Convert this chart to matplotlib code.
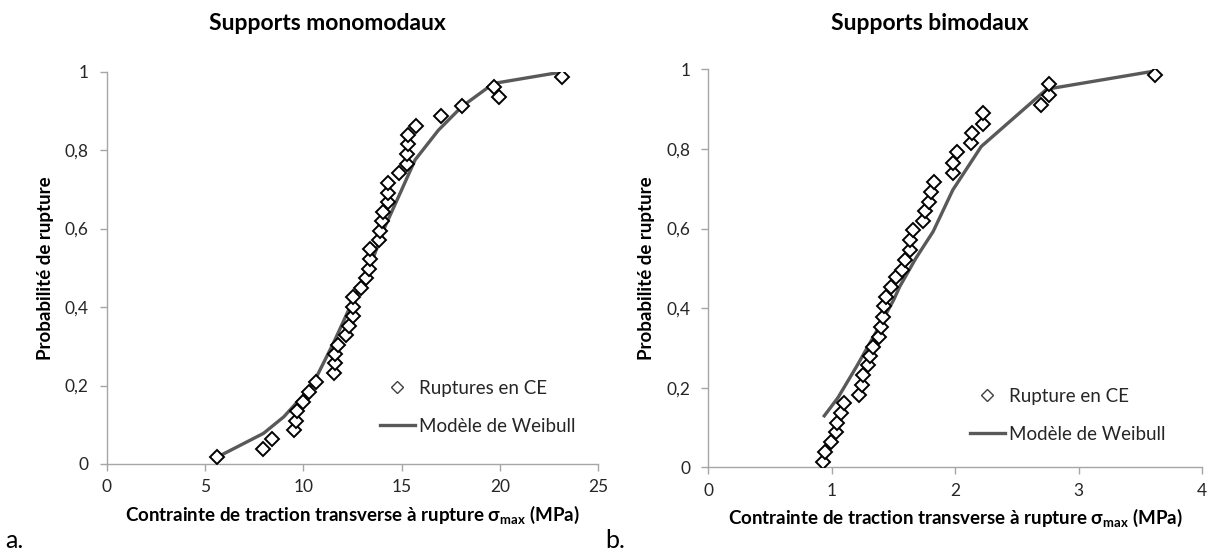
import matplotlib
matplotlib.use("Agg")
import matplotlib.pyplot as plt
from matplotlib.lines import Line2D

plt.rcParams["font.family"] = ["Lato", "DejaVu Sans"]
plt.rcParams["mathtext.fontset"] = "custom"
plt.rcParams["mathtext.rm"] = "Lato"
plt.rcParams["mathtext.default"] = "regular"

# --- Supports monomodaux: measured rupture stresses (MPa) and probabilities
mono_sigma = [5.60, 7.93, 8.39, 9.54, 9.64, 9.68, 9.98, 10.31, 10.66, 11.56,
              11.60, 11.61, 11.75, 12.17, 12.32, 12.54, 12.51, 12.53, 12.93, 13.17,
              13.34, 13.38, 13.38, 13.85, 13.90, 14.02, 14.07, 14.32, 14.32, 14.29,
              14.88, 15.29, 15.29, 15.31, 15.34, 15.72, 16.99, 18.06, 19.95, 19.70,
              23.17]
mono_prob = [0.017, 0.038, 0.063, 0.087, 0.110, 0.135, 0.159, 0.183, 0.208, 0.231,
             0.257, 0.280, 0.304, 0.329, 0.353, 0.376, 0.401, 0.426, 0.449, 0.473,
             0.498, 0.522, 0.548, 0.570, 0.594, 0.619, 0.643, 0.667, 0.692, 0.717,
             0.741, 0.764, 0.789, 0.815, 0.839, 0.862, 0.887, 0.913, 0.935, 0.962,
             0.986]
# Weibull model curve (monomodal)
mono_model_sigma = [5.60, 7.97, 9.00, 10.00, 10.51, 11.53, 12.38, 13.39, 14.07,
                    14.92, 15.68, 16.87, 18.06, 19.67, 23.23]
mono_model_prob = [0.017, 0.078, 0.120, 0.175, 0.206, 0.308, 0.401, 0.503, 0.596,
                   0.690, 0.775, 0.851, 0.911, 0.970, 1.000]

# --- Supports bimodaux
bi_sigma = [0.931, 0.945, 0.993, 1.031, 1.040, 1.072, 1.099, 1.220, 1.242, 1.250,
            1.296, 1.309, 1.336, 1.382, 1.398, 1.412, 1.425, 1.440, 1.480, 1.520,
            1.566, 1.593, 1.633, 1.633, 1.655, 1.736, 1.755, 1.790, 1.800, 1.828,
            1.984, 1.984, 2.011, 2.127, 2.133, 2.227, 2.227, 2.690, 2.760, 2.760,
            3.617]
bi_prob = [0.014, 0.039, 0.064, 0.088, 0.112, 0.136, 0.161, 0.182, 0.207, 0.232,
           0.257, 0.280, 0.303, 0.328, 0.353, 0.378, 0.405, 0.428, 0.453, 0.477,
           0.496, 0.521, 0.546, 0.572, 0.596, 0.620, 0.644, 0.667, 0.692, 0.718,
           0.740, 0.764, 0.793, 0.814, 0.839, 0.863, 0.889, 0.910, 0.935, 0.962,
           0.986]
# Weibull model curve (bimodal)
bi_model_sigma = [0.931, 1.05, 1.20, 1.35, 1.50, 1.55, 1.68, 1.82, 1.98, 2.21,
                  2.74, 3.62]
bi_model_prob = [0.126, 0.175, 0.253, 0.335, 0.420, 0.454, 0.525, 0.592, 0.697,
                 0.806, 0.950, 0.996]

y_ticks = [0, 0.2, 0.4, 0.6, 0.8, 1.0]
y_tick_labels = ["0", "0,2", "0,4", "0,6", "0,8", "1"]
mono_x_ticks = [0, 5, 10, 15, 20, 25]
bi_x_ticks = [0, 1, 2, 3, 4]

AXIS_GREY = "#A6A6A6"
LINE_GREY = "#595959"
TEXT = "#262626"
XLABEL = "Contrainte de traction transverse à rupture σ$_{max}$ (MPa)"

fig = plt.figure(figsize=(12.09, 5.54), dpi=100)
W, H = 1209.0, 554.0


def make_axes(x0, x1, y0, y1):
    return fig.add_axes([x0 / W, 1 - y0 / H, (x1 - x0) / W, (y0 - y1) / H])


def style(ax, xlim, xticks):
    ax.set_xlim(*xlim)
    ax.set_ylim(0, 1)
    ax.set_xticks(xticks)
    ax.set_xticklabels([str(t) for t in xticks])
    ax.set_yticks(y_ticks)
    ax.set_yticklabels(y_tick_labels)
    for s in ("top", "right"):
        ax.spines[s].set_visible(False)
    for s in ("left", "bottom"):
        ax.spines[s].set_color(AXIS_GREY)
        ax.spines[s].set_linewidth(1.0)
    ax.tick_params(axis="both", direction="out", length=5, width=1.0,
                   color=AXIS_GREY, labelsize=12.5, labelcolor=TEXT)
    ax.tick_params(axis="x", pad=6)
    ax.tick_params(axis="y", pad=8)
    ax.set_xlabel(XLABEL, fontsize=13.5, fontweight="bold", color="black",
                  labelpad=6)
    ax.set_ylabel("Probabilité de rupture", fontsize=13.5, fontweight="bold",
                  color="black", labelpad=8)


def draw(ax, sx, sp, mx, mp, scatter_label, anchor):
    ax.plot(mx, mp, color=LINE_GREY, lw=2.4, solid_capstyle="butt", zorder=2)
    ax.plot(sx, sp, linestyle="none", marker="D", ms=7.4, mfc="white",
            mec="black", mew=1.4, zorder=3)
    handles = [
        Line2D([], [], linestyle="none", marker="D", ms=6.5, mfc="white",
               mec="#404040", mew=1.0),
        Line2D([], [], color=LINE_GREY, lw=2.4),
    ]
    ax.legend(handles, [scatter_label, "Modèle de Weibull"], loc="upper left",
              bbox_to_anchor=anchor, frameon=False, fontsize=13.5,
              handlelength=1.85, handletextpad=0.25, labelspacing=1.1,
              borderaxespad=0, borderpad=0, labelcolor=TEXT)


ax1 = make_axes(106.7, 598.3, 464.0, 71.7)
style(ax1, (0, 25), mono_x_ticks)
draw(ax1, mono_sigma, mono_prob, mono_model_sigma, mono_model_prob,
     "Ruptures en CE", ((380 - 106.7) / (598.3 - 106.7), (464 - 380) / (464 - 71.7)))

ax2 = make_axes(708.3, 1202.3, 467.3, 69.3)
style(ax2, (0, 4), bi_x_ticks)
draw(ax2, bi_sigma, bi_prob, bi_model_sigma, bi_model_prob,
     "Rupture en CE", ((970 - 708.3) / (1202.3 - 708.3), (467.3 - 388) / (467.3 - 69.3)))

fig.text(327 / W, 1 - 23 / H, "Supports monomodaux", ha="center", va="center",
         fontsize=16.5, fontweight="bold")
fig.text(930 / W, 1 - 23 / H, "Supports bimodaux", ha="center", va="center",
         fontsize=16.5, fontweight="bold")
fig.text(5 / W, 1 - 541 / H, "a.", ha="left", va="center", fontsize=18)
fig.text(605 / W, 1 - 541 / H, "b.", ha="left", va="center", fontsize=18)

fig.savefig("out.png", dpi=100)
